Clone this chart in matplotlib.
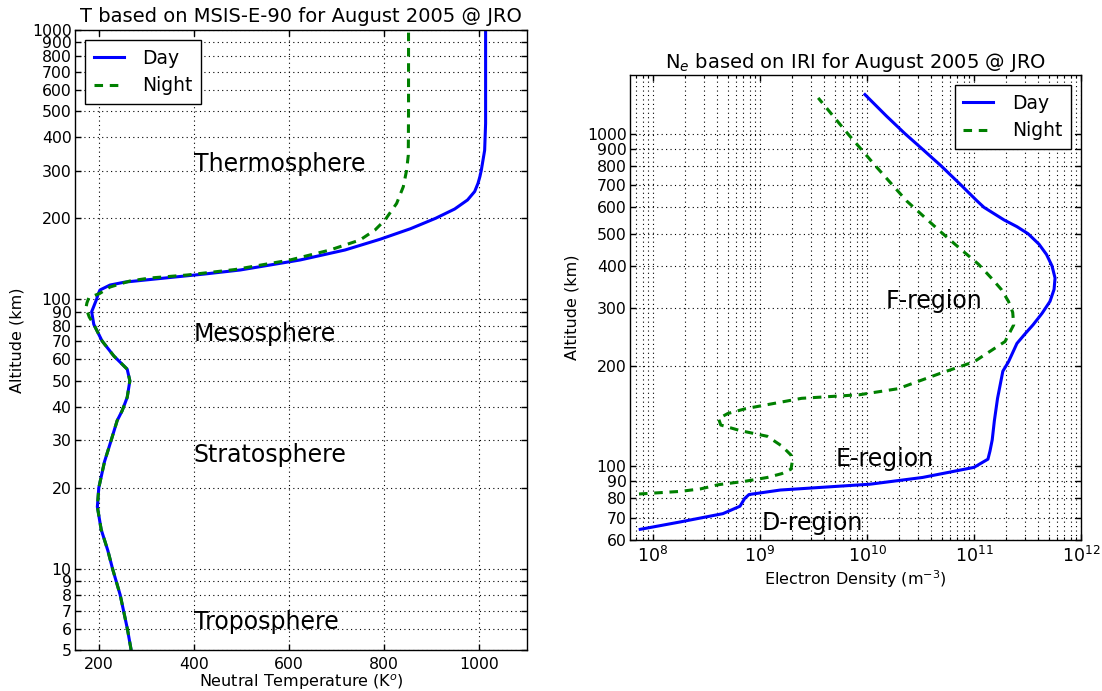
import matplotlib
matplotlib.use("Agg")
import matplotlib.pyplot as plt
from matplotlib.ticker import FixedLocator, NullLocator, LogLocator, LogFormatterMathtext, NullFormatter

plt.rcParams["font.family"] = ["DejaVu Sans"]
plt.rcParams["mathtext.fontset"] = "dejavusans"

# ---------------- Neutral temperature profiles (MSIS-E-90) ----------------
alt_temp_day = [5, 6, 8, 10, 11.7, 14, 17, 20, 25, 30, 35.5, 38.6, 43.3, 49.9,
                55.1, 61.7, 70.1, 80.8, 90.0, 100.4, 104, 108.4, 113.1, 116.0, 120.1,
                124.3, 128.6, 140.1, 152.6, 167.2, 183, 200.1, 216.6, 234, 251.5,
                269.7, 285.7, 302, 358, 450, 1000]
temp_day = [268, 260, 245, 229, 219, 205, 197, 200, 212, 226, 238.6, 249, 259.7, 265.3,
            259.7, 231.6, 207, 189.5, 185, 195.6, 198, 202.5, 223.6, 255, 339,
            423, 497, 623, 717.5, 791, 855, 908, 948, 975, 990,
            997, 1001, 1004, 1011, 1013, 1013]

alt_temp_night = [5, 6, 8, 10, 11.7, 14, 17, 20, 25, 30, 35.5, 38.6, 43.3, 49.9,
                  55.1, 61.7, 70.1, 80.8, 86, 93, 97, 101.4, 105.4, 111.2, 117.1,
                  120.1, 123.2, 129.1, 140.1, 152.6, 166.2, 181.0, 197.1, 227.2, 262,
                  302, 343, 500, 1000]
temp_night = [268, 260, 245, 229, 219, 205, 197, 200, 212, 226, 238.6, 249, 259.7, 265.3,
              259.7, 231.6, 207, 189.5, 180, 173, 175, 179, 202.5, 223.6, 265.6,
              307.6, 385, 486, 602, 686, 749, 780.5, 801.5, 826, 840,
              847, 850.5, 851, 851]

temp_alt_ticks = [5, 6, 7, 8, 9, 10, 20, 30, 40, 50, 60, 70, 80, 90, 100,
                  200, 300, 400, 500, 600, 700, 800, 900, 1000]
temp_ticks = [200, 400, 600, 800, 1000]
atmos_layers = ["Thermosphere", "Mesosphere", "Stratosphere", "Troposphere"]
atmos_layer_alt = [300, 70.3, 24.9, 6]

# ---------------- Electron density profiles (IRI) ----------------
alt_ne_day = [64.6, 68, 72, 75.8, 80, 82.2, 84.8, 88.3, 92.5, 99.2, 105, 108, 111,
              120, 137, 160, 193, 206, 234, 250, 266, 288, 313, 340, 368, 400, 433,
              465, 500, 525, 550, 600, 627, 700, 800, 900, 1000, 1129, 1310]
ne_day = [7.6e7, 1.8e8, 4.5e8, 6.5e8, 7.2e8, 7.9e8, 1.55e9, 1.07e10, 3.3e10, 1.0e11,
          1.35e11, 1.38e11, 1.41e11, 1.48e11, 1.55e11, 1.66e11, 1.86e11, 2.1e11,
          2.52e11, 3.0e11, 3.56e11, 4.32e11, 5.13e11, 5.6e11, 5.72e11, 5.36e11,
          4.76e11, 4.05e11, 3.2e11, 2.52e11, 1.91e11, 1.24e11, 1.07e11, 7.57e10,
          4.92e10, 3.27e10, 2.26e10, 1.52e10, 9.57e9]

alt_ne_night = [82.5, 84, 85.5, 88, 90, 92.5, 95, 98, 103, 108, 115, 123, 128, 133,
                139, 144, 149, 160, 164, 171, 190, 206, 237, 266, 290, 313, 340, 368,
                405, 443, 509, 627, 800, 1000, 1280]
ne_night = [7.4e7, 1.8e8, 2.8e8, 4.1e8, 7.1e8, 1.17e9, 1.6e9, 1.95e9, 2.0e9, 1.95e9,
            1.6e9, 1.17e9, 6.5e8, 4.3e8, 4.1e8, 5.0e8, 7.4e8, 2.45e9, 8.5e9,
            1.95e10, 4.8e10, 1.0e11, 1.95e11, 2.35e11, 2.3e11, 2.1e11, 1.8e11,
            1.45e11, 1.1e11, 7.9e10, 4.8e10, 2.35e10, 1.2e10, 6.6e9, 3.5e9]

ne_alt_ticks = [60, 70, 80, 90, 100, 200, 300, 400, 500, 600, 700, 800, 900, 1000]
iono_regions = ["F-region", "E-region", "D-region"]
iono_region_ne = [1.5e10, 5.1e9, 1.03e9]
iono_region_alt = [300, 100.2, 64.5]

# ---------------- Figure ----------------
fig = plt.figure(figsize=(11.02, 6.91), dpi=100)
ax1 = fig.add_axes([0.06806, 0.05933, 0.41016, 0.89725])
ax2 = fig.add_axes([0.57169, 0.21852, 0.40926, 0.67294])

DAY_C = "#0000ff"
NIGHT_C = "#008000"
LW = 2.2
DASH = (2.8, 2.2)
grid_kw = dict(color="black", linestyle=(0, (1, 3)), linewidth=0.8)


def style_axes(ax):
    for s in ax.spines.values():
        s.set_linewidth(1.0)
        s.set_color("black")
    ax.tick_params(which="major", direction="in", top=True, right=True,
                   length=4, width=1, labelsize=11.3, colors="black")
    ax.tick_params(which="minor", direction="in", top=True, right=True,
                   length=2, width=0.8)
    ax.tick_params(axis="x", which="both", pad=5)
    ax.tick_params(axis="y", which="both", pad=2.5)


def add_legend(ax, loc):
    leg = ax.legend(loc=loc, fontsize=13.5, frameon=True, fancybox=False,
                    edgecolor="black", framealpha=1, handlelength=1.6,
                    handletextpad=1.0, borderaxespad=0.55, borderpad=0.45,
                    labelspacing=0.45)
    leg.get_frame().set_linewidth(1.0)


# Left panel: neutral temperature
ax1.plot(temp_day, alt_temp_day, color=DAY_C, lw=LW, label="Day")
ax1.plot(temp_night, alt_temp_night, color=NIGHT_C, lw=LW, dashes=DASH, label="Night")
ax1.set_yscale("log")
ax1.set_xlim(150, 1100)
ax1.set_ylim(5, 1000)
ax1.yaxis.set_major_locator(FixedLocator(temp_alt_ticks))
ax1.yaxis.set_minor_locator(NullLocator())
ax1.set_yticklabels([str(v) for v in temp_alt_ticks])
ax1.set_xticks(temp_ticks)
ax1.grid(True, **grid_kw)
style_axes(ax1)
for name, a in zip(atmos_layers, atmos_layer_alt):
    ax1.text(400, a, name, fontsize=17, ha="left", va="baseline")
ax1.set_title("T based on MSIS-E-90 for August 2005 @ JRO", fontsize=14, pad=6)
ax1.set_xlabel("Neutral Temperature (K$^o$)", fontsize=11.5, labelpad=0.5)
ax1.set_ylabel("Altitude (km)", fontsize=11.5)
ax1.yaxis.set_label_coords(-0.111, 0.5)
add_legend(ax1, "upper left")

# Right panel: electron density
ax2.plot(ne_day, alt_ne_day, color=DAY_C, lw=LW, label="Day")
ax2.plot(ne_night, alt_ne_night, color=NIGHT_C, lw=LW, dashes=DASH, label="Night")
ax2.set_xscale("log")
ax2.set_yscale("log")
ax2.set_xlim(6.1e7, 1e12)
ax2.set_ylim(60, 1500)
ax2.xaxis.set_major_locator(LogLocator(base=10))
ax2.xaxis.set_major_formatter(LogFormatterMathtext())
ax2.xaxis.set_minor_locator(LogLocator(base=10, subs=(2, 3, 4, 5, 6, 7, 8, 9)))
ax2.xaxis.set_minor_formatter(NullFormatter())
ax2.yaxis.set_major_locator(FixedLocator(ne_alt_ticks))
ax2.yaxis.set_minor_locator(NullLocator())
ax2.set_yticklabels([str(v) for v in ne_alt_ticks])
ax2.grid(True, which="both", **grid_kw)
style_axes(ax2)
ax2.tick_params(axis="x", which="major", labelsize=12.5, pad=4)
for name, x, a in zip(iono_regions, iono_region_ne, iono_region_alt):
    ax2.text(x, a, name, fontsize=17, ha="left", va="baseline")
ax2.set_title("N$_e$ based on IRI for August 2005 @ JRO", fontsize=14, pad=5)
ax2.set_xlabel("Electron Density (m$^{-3}$)", fontsize=11.5, labelpad=2)
ax2.set_ylabel("Altitude (km)", fontsize=11.5)
ax2.yaxis.set_label_coords(-0.111, 0.5)
add_legend(ax2, "upper right")

fig.savefig("out.png", dpi=100, facecolor="white")
